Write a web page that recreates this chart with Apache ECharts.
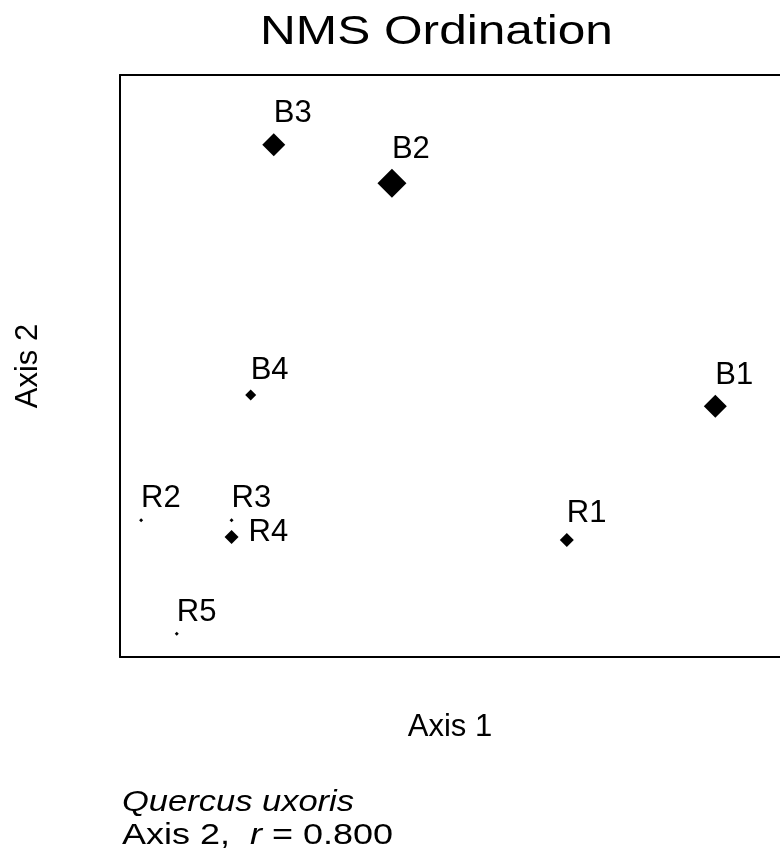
<!DOCTYPE html>
<html>
<head>
    <meta charset="utf-8">
    <title>NMS Ordination</title>
    <script src="https://cdn.jsdelivr.net/npm/echarts@6/dist/echarts.min.js"></script>
    <style type="text/css">
        html, body {
            margin: 0;
            padding: 0;
            background: #ffffff;
        }
        #chart {
            width: 780px;
            height: 863px;
        }
    </style>
</head>
<body>
<div id="chart"></div>
<script>
    // 样点名称、排序坐标、物种多度（决定菱形大小）
    var plots = ['B3', 'B2', 'B4', 'B1', 'R1', 'R2', 'R3', 'R4', 'R5'];
    var axis1 = [23.3, 41.2, 19.8, 90.2, 67.7, 3.2, 16.9, 16.9, 8.6];
    var axis2 = [88.0, 81.4, 45.0, 43.1, 20.1, 23.5, 23.5, 20.6, 4.0];
    var abundance = [23, 29, 11, 23, 14, 4, 4, 14, 4];

    var font = 'Liberation Sans, Arial, Helvetica, sans-serif';

    var points = [];
    for (var i = 0; i < plots.length; i++) {
        var p = {
            name: plots[i],
            value: [axis1[i], axis2[i], abundance[i]]
        };
        // R4 的标签放在点的右边，其余在上方
        if (plots[i] === 'R4') {
            p.label = {position: 'right', distance: 10, offset: [0, -5], align: 'left'};
        }
        points.push(p);
    }

    var frameLine = {show: true, lineStyle: {color: '#000', width: 2}};

    var chart = echarts.init(document.getElementById('chart'), null, {renderer: 'canvas'});
    var option = {
        backgroundColor: '#ffffff',
        animation: false,
        grid: {
            left: 120,
            top: 75,
            width: 662,
            height: 582,
            show: false
        },
        xAxis: [
            {
                type: 'value',
                min: 0,
                max: 100,
                name: 'Axis 1',
                nameLocation: 'middle',
                nameGap: 55,
                nameTextStyle: {fontFamily: font, fontSize: 31, color: '#000'},
                axisLine: frameLine,
                axisTick: {show: false},
                axisLabel: {show: false},
                splitLine: {show: false}
            },
            {
                // 上边框
                type: 'value',
                position: 'top',
                min: 0,
                max: 100,
                axisLine: frameLine,
                axisTick: {show: false},
                axisLabel: {show: false},
                splitLine: {show: false}
            }
        ],
        yAxis: {
            type: 'value',
            min: 0,
            max: 100,
            name: 'Axis 2',
            nameLocation: 'middle',
            nameGap: 76,
            nameTextStyle: {fontFamily: font, fontSize: 31, color: '#000'},
            axisLine: frameLine,
            axisTick: {show: false},
            axisLabel: {show: false},
            splitLine: {show: false}
        },
        series: [
            {
                type: 'scatter',
                xAxisIndex: 0,
                symbol: 'diamond',
                symbolSize: function (val) {
                    return val[2];
                },
                itemStyle: {color: '#000', opacity: 1},
                label: {
                    show: true,
                    position: 'top',
                    align: 'left',
                    distance: 4,
                    formatter: '{b}',
                    fontFamily: font,
                    fontSize: 31,
                    color: '#000'
                },
                data: points
            }
        ],
        graphic: [
            {
                type: 'text',
                x: 260,
                y: 12,
                scaleX: 1.21,
                style: {
                    text: 'NMS Ordination',
                    font: '41px ' + font,
                    fill: '#000',
                    verticalAlign: 'top'
                }
            },
            {
                type: 'text',
                x: 122,
                y: 788,
                scaleX: 1.15,
                style: {
                    text: 'Quercus uxoris',
                    font: 'italic 30px ' + font,
                    fill: '#000',
                    verticalAlign: 'top'
                }
            },
            {
                type: 'text',
                x: 122,
                y: 821,
                scaleX: 1.2,
                style: {
                    text: 'Axis 2,  {i|r} = 0.800',
                    font: '30px ' + font,
                    fill: '#000',
                    verticalAlign: 'top',
                    rich: {
                        i: {fontStyle: 'italic', fontFamily: font, fontSize: 30}
                    }
                }
            }
        ]
    };
    chart.setOption(option);
</script>
</body>
</html>
